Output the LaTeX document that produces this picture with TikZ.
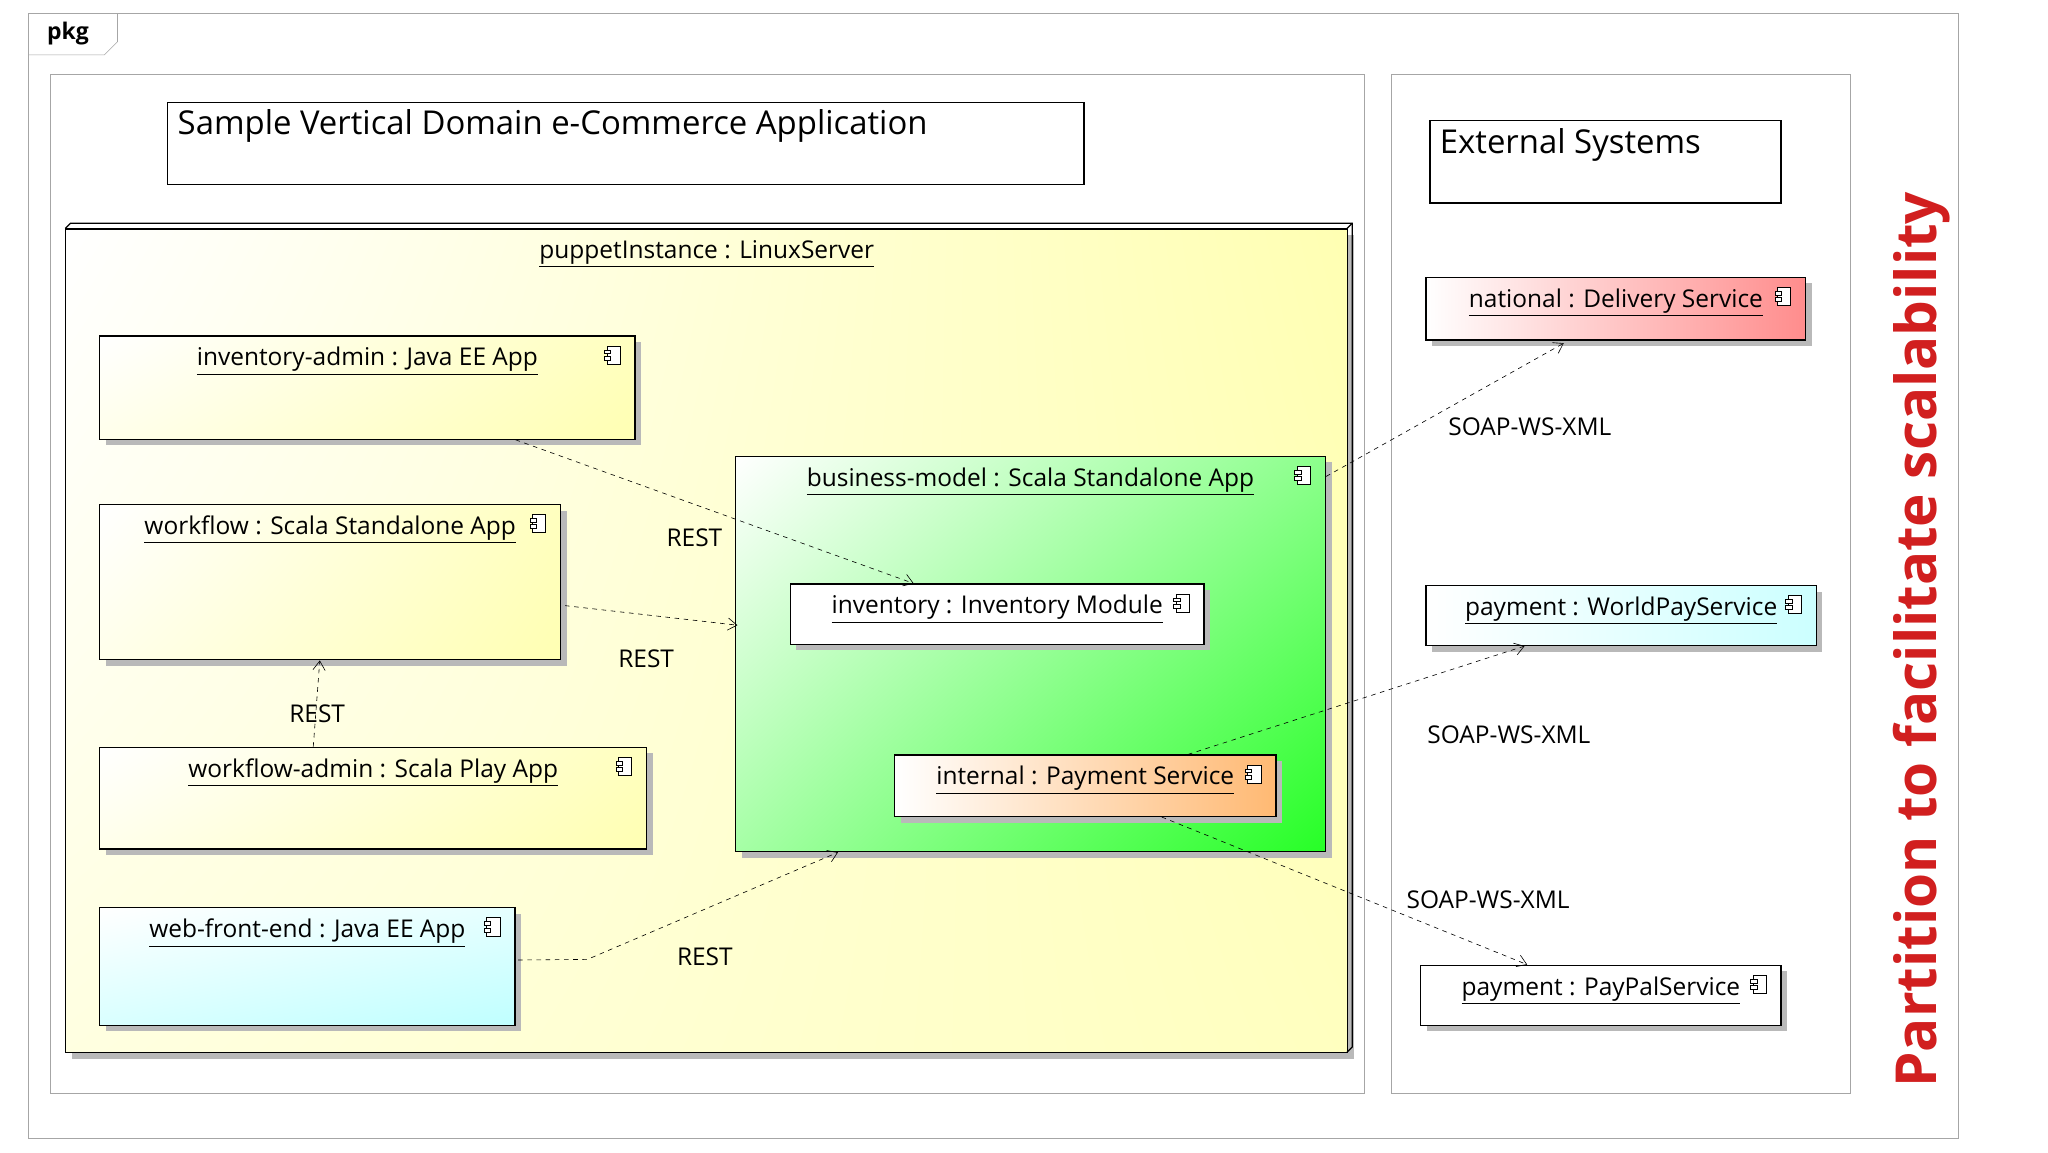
\documentclass[tikz,border=0pt]{standalone}
\usepackage{fontspec}
\setmainfont{Open Sans}
\usetikzlibrary{positioning,shadows,shadings,arrows.meta,calc}

\tikzset{
  box/.style={draw=black, thick, anchor=north west, inner sep=0pt,
    drop shadow={shadow xshift=4pt, shadow yshift=-4pt, fill=gray!55, opacity=1}},
  panel/.style={draw=gray!70, anchor=north west, inner sep=0pt},
  dep/.style={dashed, thin, -{Straight Barb[length=6pt,width=8pt]}},
  lbl/.style={font=\fontsize{16}{18}\selectfont},
  yel/.style={box, upper left=white, lower left=yellow!8, upper right=yellow!25, lower right=yellow!30},
}
\definecolor{partred}{rgb}{0.82,0.12,0.12}
\newcommand{\cicon}[1]{%
  \draw[fill=white] ($(#1.north east)+(-22,8)$) rectangle ++(10,14);
  \draw[fill=white] ($(#1.north east)+(-24,11)$) rectangle ++(5,3);
  \draw[fill=white] ($(#1.north east)+(-24,16)$) rectangle ++(5,3);}
\newcommand{\ctitle}[2]{%
  \node[lbl, anchor=north] at ($(#1.north)+(0,5)$) {\underline{#2}};}

\begin{document}
\begin{tikzpicture}[x=0.03cm, y=-0.03cm]
  \useasboundingbox[fill=white] (0,0) rectangle (1569,883);

  % frames
  \draw[gray!70] (22,10) rectangle (1500,872);
  \draw[gray!70] (22,42) -- (80,42) -- (90,32) -- (90,10);
  \node[font=\fontsize{15}{17}\selectfont\bfseries] at (52,26) {pkg};
  \node[panel, minimum width=1007*0.03cm, minimum height=780*0.03cm] (app) at (38,57) {};
  \node[panel, minimum width=351*0.03cm, minimum height=780*0.03cm] (ext) at (1066,57) {};

  \node[draw, thick, anchor=north west, minimum width=702*0.03cm, minimum height=63*0.03cm] (ttl) at (128,78) {};
  \node[anchor=north west, font=\fontsize{21.5}{24}\selectfont] at (132,80) {Sample Vertical Domain e-Commerce Application};
  \node[draw, thick, anchor=north west, minimum width=269*0.03cm, minimum height=63*0.03cm] (extttl) at (1095,92) {};
  \node[anchor=north west, font=\fontsize{21.5}{24}\selectfont] at (1099,94) {External Systems};

  % server node
  \node[box, minimum width=982*0.03cm, minimum height=631*0.03cm,
    upper left=white, lower left=yellow!12, upper right=yellow!30, lower right=yellow!25] (srv) at (50,175) {};
  \draw[thick] (50,175) -- (54,171) -- (1036,171) -- (1036,802) -- (1032,806);
  \draw[thick] (1032,175) -- (1036,171);
  \ctitle{srv}{puppetInstance : LinuxServer}

  % apps
  \node[yel, minimum width=410*0.03cm, minimum height=79*0.03cm] (invadm) at (76,257) {};
  \ctitle{invadm}{inventory-admin : Java EE App} \cicon{invadm}
  \node[yel, minimum width=353*0.03cm, minimum height=119*0.03cm] (wf) at (76,386) {};
  \ctitle{wf}{workflow : Scala Standalone App} \cicon{wf}
  \node[yel, minimum width=419*0.03cm, minimum height=78*0.03cm] (wfadm) at (76,572) {};
  \ctitle{wfadm}{workflow-admin : Scala Play App} \cicon{wfadm}
  \node[box, minimum width=318*0.03cm, minimum height=90*0.03cm,
    upper left=white, lower left=cyan!15, upper right=cyan!10, lower right=cyan!25] (web) at (76,695) {};
  \ctitle{web}{web-front-end : Java EE App} \cicon{web}

  \node[box, minimum width=452*0.03cm, minimum height=303*0.03cm,
    upper left=white, lower left=green!35, upper right=green!45, lower right=green!85] (biz) at (563,349) {};
  \ctitle{biz}{business-model : Scala Standalone App} \cicon{biz}
  \node[box, fill=white, minimum width=317*0.03cm, minimum height=46*0.03cm] (inv) at (605,447) {};
  \ctitle{inv}{inventory : Inventory Module} \cicon{inv}
  \node[box, minimum width=292*0.03cm, minimum height=47*0.03cm,
    left color=white, right color=orange!55] (pay) at (685,578) {};
  \ctitle{pay}{internal : Payment Service} \cicon{pay}

  % external
  \node[box, minimum width=291*0.03cm, minimum height=48*0.03cm,
    left color=white, right color=red!45] (nat) at (1092,212) {};
  \ctitle{nat}{national : Delivery Service} \cicon{nat}
  \node[box, minimum width=299*0.03cm, minimum height=46*0.03cm,
    left color=white, right color=cyan!20] (wp) at (1092,448) {};
  \ctitle{wp}{payment : WorldPayService} \cicon{wp}
  \node[box, fill=white, minimum width=276*0.03cm, minimum height=46*0.03cm] (pp) at (1088,739) {};
  \ctitle{pp}{payment : PayPalService} \cicon{pp}

  % dependencies
  \draw[dep] ($(invadm.south west)+(319,0)$) -- ($(inv.north west)+(95,0)$);
  \node[lbl] at (532,412) {REST};
  \draw[dep] ($(wf.east)+(3,18)$) -- ($(biz.west)+(2,-22)$);
  \node[lbl] at (495,505) {REST};
  \draw[dep] ($(wfadm.north west)+(164,0)$) -- ($(wf.south west)+(169,0)$);
  \node[lbl] at (243,547) {REST};
  \draw[dep] ($(web.east)+(2,-5)$) -- (450,735) -- ($(biz.south west)+(79,0)$);
  \node[lbl] at (540,733) {REST};
  \draw[dep] ($(biz.north east)+(0,16)$) -- ($(nat.south west)+(106,2)$);
  \node[lbl] at (1172,327) {SOAP-WS-XML};
  \draw[dep] ($(pay.north west)+(225,0)$) -- ($(wp.south west)+(76,0)$);
  \node[lbl] at (1156,563) {SOAP-WS-XML};
  \draw[dep] ($(pay.south west)+(205,0)$) -- ($(pp.north west)+(82,0)$);
  \node[lbl] at (1140,689) {SOAP-WS-XML};

  \node[rotate=90, text=partred, font=\fontsize{37}{40}\selectfont\bfseries] at (1472,490) {Partition to facilitate scalability};
\end{tikzpicture}
\end{document}
